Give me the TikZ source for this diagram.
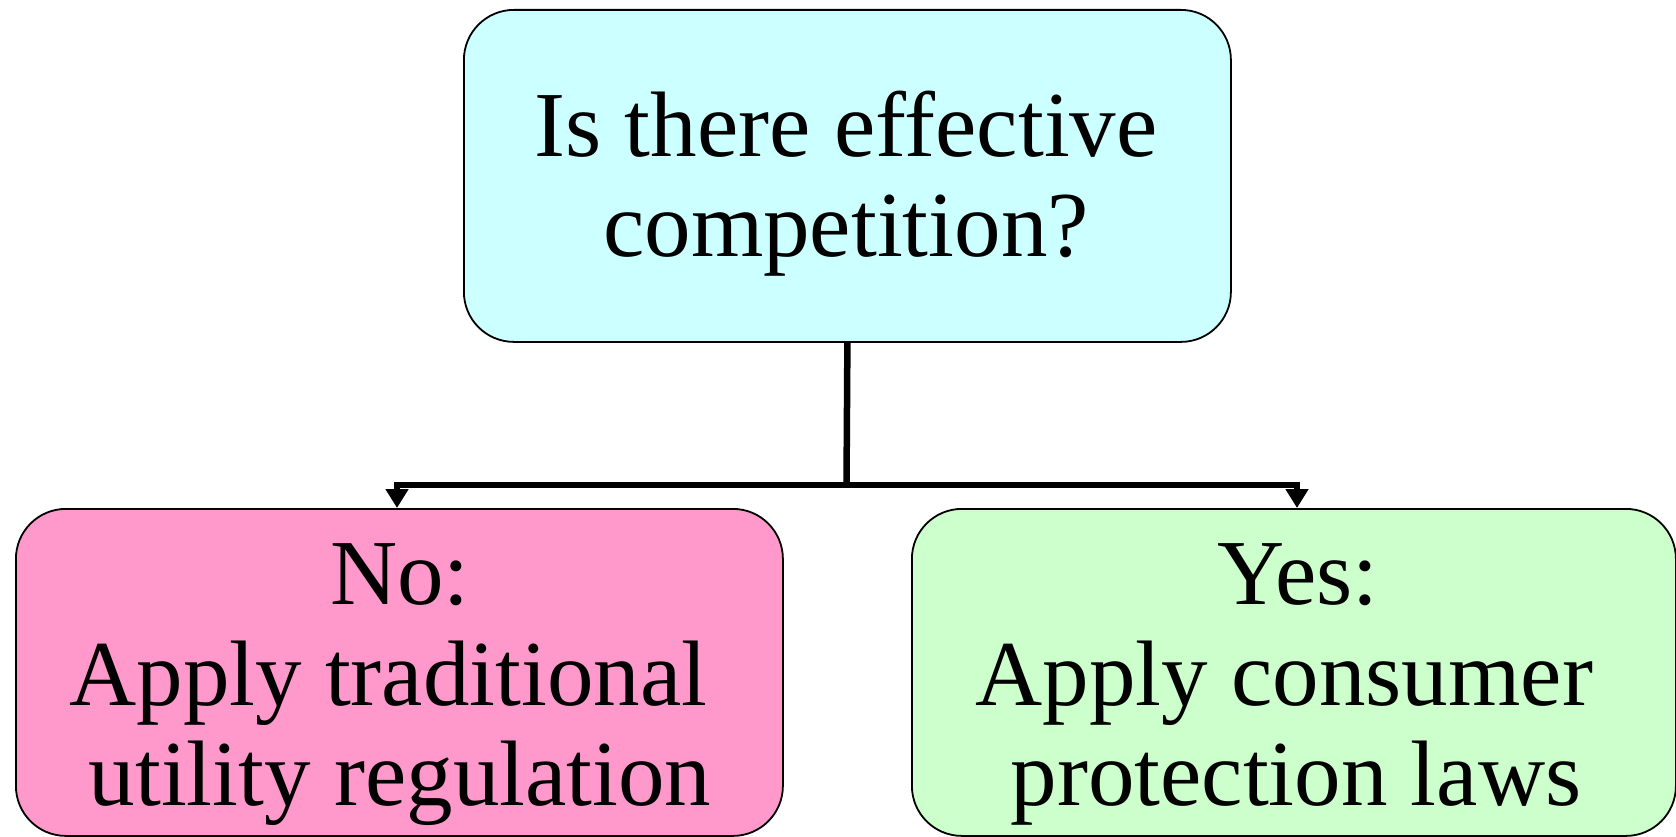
\documentclass[tikz,border=0pt]{standalone}
\usepackage{fontspec}
\setmainfont{Liberation Serif}
\usetikzlibrary{arrows.meta}
\definecolor{qcyan}{HTML}{CCFFFF}
\definecolor{qpink}{HTML}{FF99CC}
\definecolor{qgreen}{HTML}{CCFFCC}
\tikzset{
 boxstyle/.style={draw=black, line width=1.8pt, rounded corners=50pt, anchor=north west, inner sep=0pt},
 txt/.style={anchor=base, inner sep=0pt, font=\fontsize{93}{101}\selectfont},
 conn/.style={line width=6.5pt, line join=miter},
 tip/.style={-{Triangle[width=22pt,length=19pt]}}
}
\begin{document}
\begin{tikzpicture}[x=1pt,y=-1pt]
\useasboundingbox (0,0) rectangle (1676,837);
\node[boxstyle, fill=qcyan, minimum width=767pt, minimum height=332pt] (top) at (463,9) {};
\node[boxstyle, fill=qpink, minimum width=767pt, minimum height=327pt] (left) at (15,508) {};
\node[boxstyle, fill=qgreen, minimum width=764pt, minimum height=327pt] (right) at (911,508) {};
\node[txt] (t1) at (846,157) {Is there effective};
\node[txt] (t2) at (846,257) {competition?};
\node[txt] (l1) at (400,604) {No:};
\node[txt] (l2) at (400,705) {Apply traditional\hphantom{\ }};
\node[txt] (l3) at (400,805) {utility regulation};
\node[txt] (r1) at (1298,604) {Yes:};
\node[txt] (r2) at (1296,705) {Apply consumer\hphantom{\ }};
\node[txt] (r3) at (1296,805) {protection laws};
\coordinate (j) at (846.5,485);
\coordinate (jl) at (397,485);
\coordinate (jr) at (1297,485);
\draw[conn] (top.south) -- (j);
\draw[conn, tip] (j) -- (jl) -- (jl |- left.north);
\draw[conn, tip] (j) -- (jr) -- (jr |- right.north);
\end{tikzpicture}
\end{document}
